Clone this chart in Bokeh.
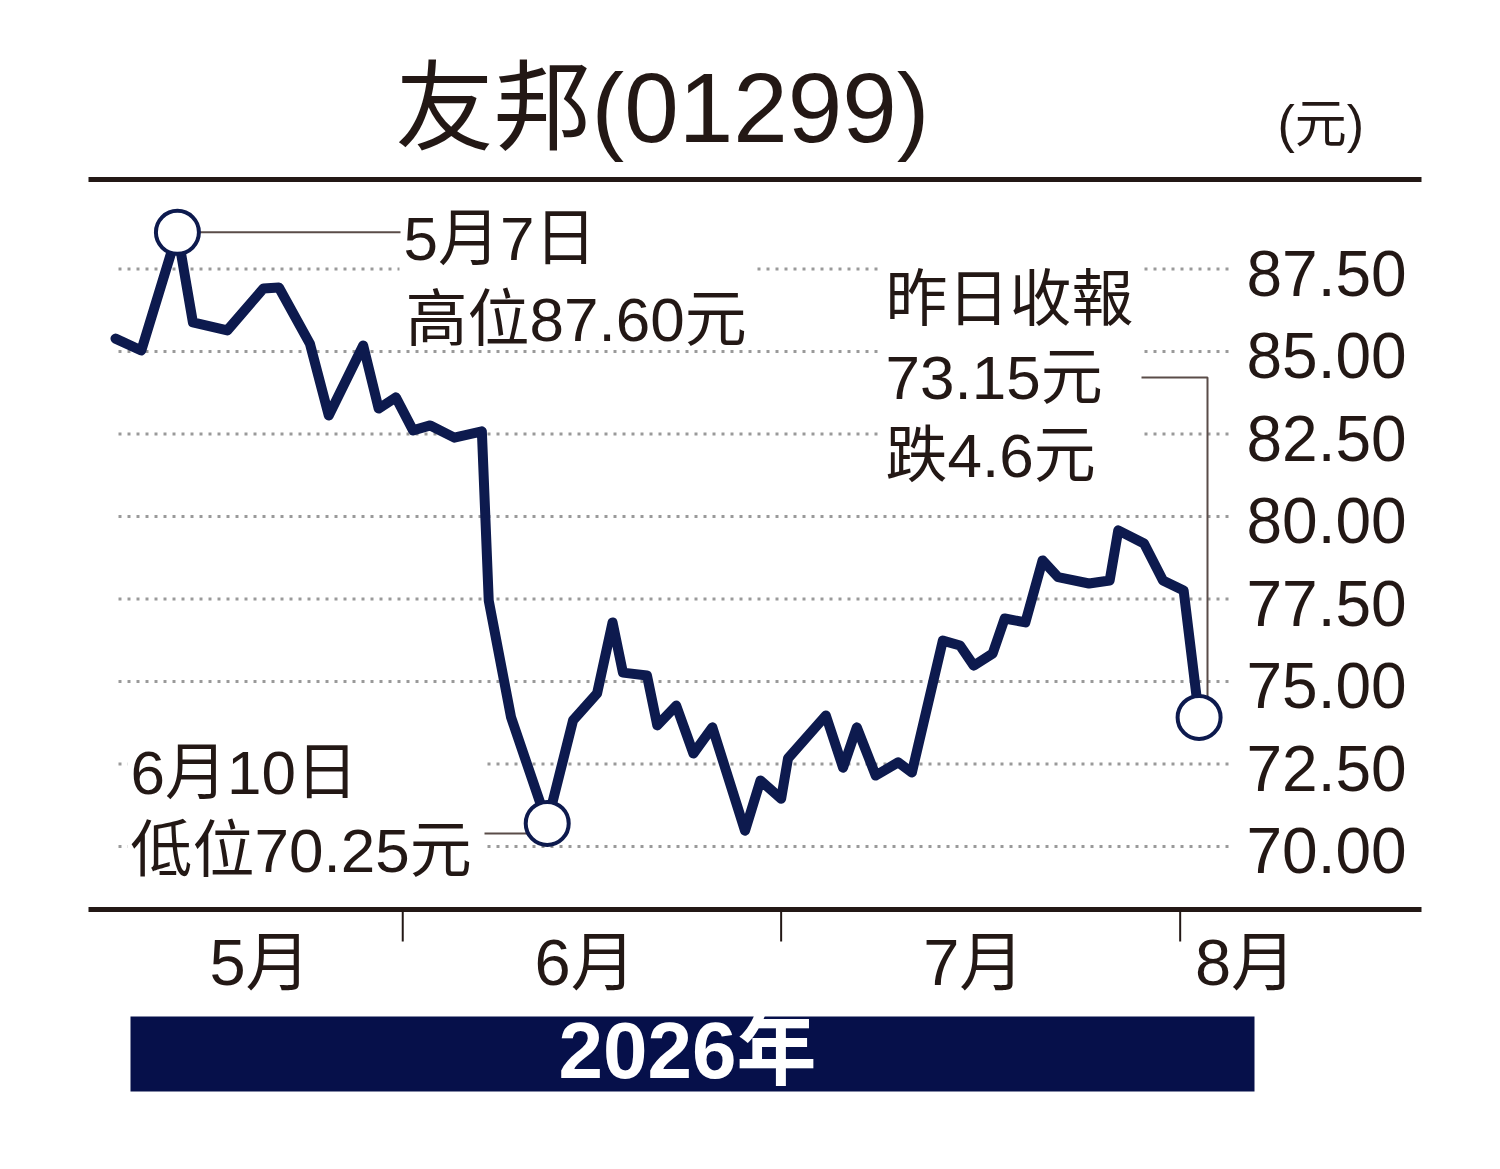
from bokeh.plotting import figure
from bokeh.models import Range1d
from bokeh.core.properties import value
from bokeh.embed import file_html
from bokeh.resources import INLINE

# ---------------- data ----------------
day_pos = [0.0, 1.5, 3.6, 4.5, 6.5, 8.6, 9.5, 11.3, 12.4, 14.4, 15.3, 16.3, 17.3,
           18.3, 19.7, 21.3, 21.7, 23.0, 25.1, 26.6, 28.0, 28.9, 29.5, 30.9, 31.5,
           32.6, 33.6, 34.7, 36.6, 37.5, 38.7, 39.1, 41.3, 42.3, 43.1, 44.2, 45.5,
           46.3, 48.1, 49.1, 49.9, 51.0, 51.7, 52.9, 53.9, 54.8, 56.6, 57.8, 58.3,
           59.8, 60.9, 62.1, 63.0]
price = [85.39, 85.03, 88.61, 85.88, 85.64, 86.91, 86.94, 85.24, 83.06, 85.18,
         83.27, 83.61, 82.61, 82.76, 82.39, 82.58, 77.45, 73.91, 70.70, 73.82,
         74.64, 76.79, 75.27, 75.18, 73.67, 74.27, 72.82, 73.61, 70.48, 72.00,
         71.45, 72.67, 73.97, 72.39, 73.61, 72.15, 72.55, 72.24, 76.24, 76.09,
         75.48, 75.85, 76.91, 76.79, 78.67, 78.16, 77.97, 78.06, 79.58, 79.18,
         78.06, 77.76, 73.91]
marked_idx = [2, 18, 52]          # high, low, latest close

y_ticks = [70.0, 72.5, 75.0, 77.5, 80.0, 82.5, 85.0, 87.5]
y_tick_labels = ["70.00", "72.50", "75.00", "77.50", "80.00", "82.50", "85.00", "87.50"]

month_names = ["5月", "6月", "7月", "8月"]
month_centers = [8.4, 27.3, 49.9, 65.7]
month_bounds = [16.7, 38.7, 61.9]

title_text = "友邦(01299)"
unit_text = "(元)"
year_text = "2026年"
high_note = ["5月7日", "高位87.60元"]
close_note = ["昨日收報", "73.15元", "跌4.6元"]
low_note = ["6月10日", "低位70.25元"]

# ---------------- layout helpers (page pixels -> data) ----------------
def X(px):
    return (px - 115) / 17.2

def Y(py):
    return 87.5 - (py - 268.5) / 33.0

FONT = value("Liberation Sans, Noto Sans CJK TC")
INK = "#231815"
NAVY = "#0d1a4e"
BOX = "#06104a"
GRID = "#9a9a9a"
LEAD = "#5a4c48"
BL = 0.375   # baseline correction (fraction of font size)

p = figure(width=1484, height=1153, x_range=Range1d(X(0), X(1484)),
           y_range=Range1d(Y(1153), Y(0)), x_axis_type=None, y_axis_type=None,
           toolbar_location=None, output_backend="svg", min_border=0)
p.grid.visible = False
p.outline_line_color = None
p.background_fill_color = "white"
p.border_fill_color = "white"


def txt(xs, ys, texts, size, **kw):
    kw.setdefault("text_color", INK)
    p.text(x=xs, y=ys, text=texts, text_font=FONT, text_font_size=f"{size}px",
           text_baseline="alphabetic", y_offset=-round(BL * size), **kw)


# title & unit
txt([X(395)], [Y(144)], [title_text], 98)
txt([X(1277)], [Y(143)], [unit_text], 52)

# top & bottom rules
p.segment(x0=[X(88)], x1=[X(1421)], y0=[Y(179)], y1=[Y(179)], line_color=INK, line_width=5)
p.segment(x0=[X(88)], x1=[X(1421)], y0=[Y(909)], y1=[Y(909)], line_color=INK, line_width=5)
p.segment(x0=month_bounds, x1=month_bounds, y0=[Y(909)] * len(month_bounds),
          y1=[Y(941)] * len(month_bounds), line_color=INK, line_width=2)

# dotted grid lines
p.segment(x0=[X(118)] * len(y_ticks), x1=[X(1230)] * len(y_ticks), y0=y_ticks, y1=y_ticks,
          line_color=GRID, line_width=3, line_dash="3 6")

# white backings behind the note blocks (interrupt the grid)
p.quad(left=[X(399), X(880), X(127)], right=[X(756), X(1142), X(484)],
       top=[Y(205), Y(258), Y(735)], bottom=[Y(340), Y(495), Y(885)],
       fill_color="white", line_color=None)

# y tick labels (baseline ~28px below each grid line)
p.text(x=[X(1246)] * len(y_ticks), y=y_ticks, text=y_tick_labels, text_font=FONT,
       text_font_size="64px", text_color=INK, text_baseline="alphabetic",
       y_offset=28 - round(BL * 64))

# month labels
txt(month_centers, [Y(986)] * len(month_names), month_names, 65, text_align="center")

# year bar
p.quad(left=[X(130)], right=[X(1254)], top=[Y(1016)], bottom=[Y(1091)],
       fill_color=BOX, line_color=None)
txt([X(687)], [Y(1080)], [year_text], 80, text_font_style="bold",
    text_color="white", text_align="center")

# notes
txt([X(403), X(405)], [Y(261), Y(342)], high_note, 62)
txt([X(885)] * 3, [Y(322), Y(400), Y(478)], close_note, 62)
txt([X(130), X(130)], [Y(795), Y(873)], low_note, 62)

# leader lines (tied to the marked points)
hi, lo, last = marked_idx
p.line([day_pos[hi], X(400)], [price[hi], price[hi]], line_color=LEAD, line_width=2)
p.line([X(484), day_pos[lo]], [Y(833), Y(833)], line_color=LEAD, line_width=2)
p.line([X(1141), X(1207), X(1207)], [Y(377), Y(377), price[last]],
       line_color=LEAD, line_width=2)

# price line
p.line(day_pos, price, line_color=NAVY, line_width=10, line_join="round", line_cap="round")

# marked circles
p.scatter([day_pos[i] for i in marked_idx], [price[i] for i in marked_idx], size=43,
          fill_color="white", line_color=NAVY, line_width=4)

open("out.html", "w").write(file_html(p, INLINE))
